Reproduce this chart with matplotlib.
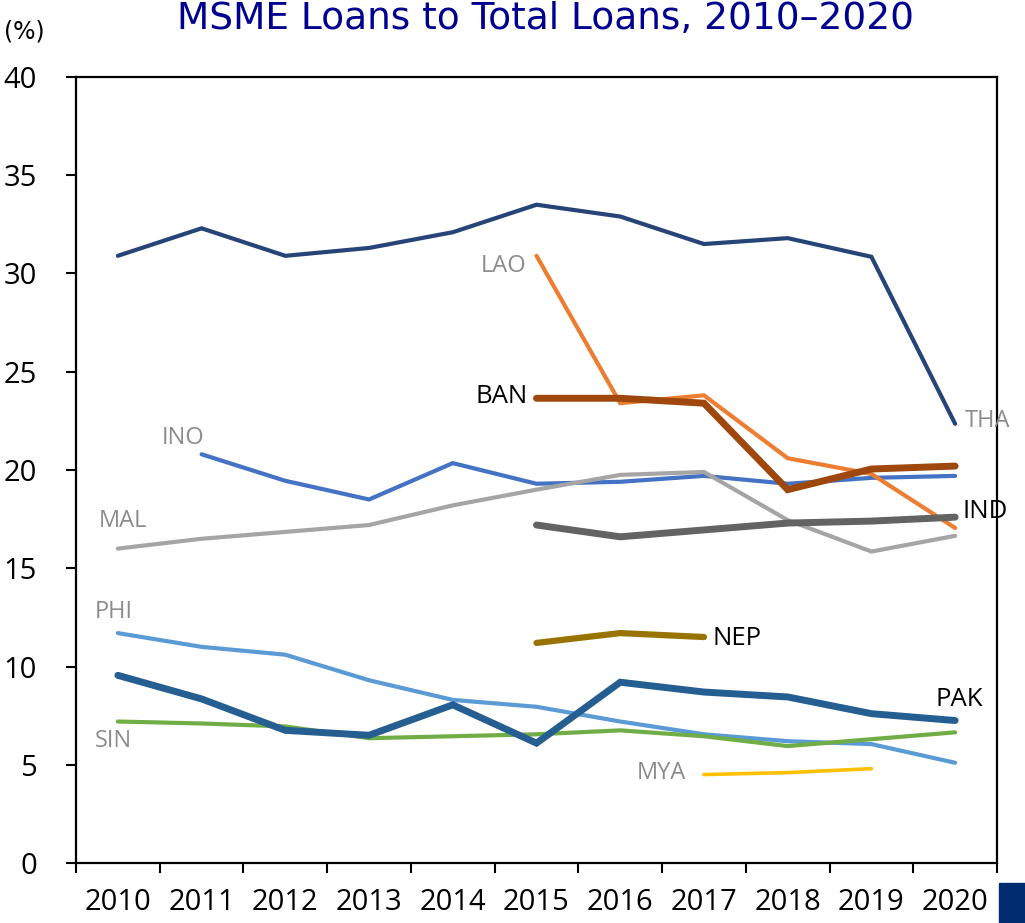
import numpy as np
import matplotlib
matplotlib.use("Agg")
import matplotlib.pyplot as plt
from matplotlib.patches import Rectangle

years = ["2010", "2011", "2012", "2013", "2014", "2015", "2016",
         "2017", "2018", "2019", "2020"]
nan = np.nan

THA = [30.9, 32.3, 30.9, 31.3, 32.1, 33.5, 32.9, 31.5, 31.8, 30.85, 22.35]
INO = [nan, 20.8, 19.45, 18.5, 20.35, 19.3, 19.4, 19.7, 19.3, 19.6, 19.7]
MAL = [16.0, 16.5, 16.85, 17.2, 18.2, 19.0, 19.75, 19.9, 17.45, 15.85, 16.65]
PHI = [11.7, 11.0, 10.6, 9.3, 8.3, 7.95, 7.2, 6.55, 6.2, 6.05, 5.1]
SIN = [7.2, 7.1, 6.95, 6.35, 6.45, 6.55, 6.75, 6.45, 5.95, 6.3, 6.65]
LAO = [nan, nan, nan, nan, nan, 30.9, 23.4, 23.8, 20.6, 19.8, 17.05]
MYA = [nan, nan, nan, nan, nan, nan, nan, 4.5, 4.6, 4.8, nan]
NEP = [nan, nan, nan, nan, nan, 11.2, 11.7, 11.5, nan, nan, nan]
IND = [nan, nan, nan, nan, nan, 17.2, 16.6, 16.95, 17.3, 17.4, 17.6]
BAN = [nan, nan, nan, nan, nan, 23.65, 23.65, 23.4, 19.0, 20.05, 20.2]
PAK = [9.55, 8.35, 6.75, 6.5, 8.05, 6.1, 9.2, 8.7, 8.45, 7.6, 7.25]

yticks = [0, 5, 10, 15, 20, 25, 30, 35, 40]

# (name, values, colour, width, label colour, label size)
series = [
    ("THA", THA, "#264478", 3.0, "#8C8C8C", 17),
    ("INO", INO, "#4472C4", 3.0, "#8C8C8C", 17),
    ("MAL", MAL, "#A5A5A5", 3.0, "#8C8C8C", 17),
    ("PHI", PHI, "#5B9BD5", 3.0, "#8C8C8C", 17),
    ("SIN", SIN, "#70AD47", 3.0, "#8C8C8C", 17),
    ("LAO", LAO, "#ED7D31", 3.0, "#8C8C8C", 17),
    ("MYA", MYA, "#FFC000", 2.6, "#8C8C8C", 17),
    ("NEP", NEP, "#997300", 4.5, "black", 18.5),
    ("IND", IND, "#636363", 5.0, "black", 18.5),
    ("BAN", BAN, "#9E480E", 5.0, "black", 18.5),
    ("PAK", PAK, "#255E91", 5.0, "black", 18.5),
]

# label anchor: which end of the series, offset (points), alignment
label_spec = {
    "THA": ("last", (7, 2), "left"),
    "INO": ("first", (2, 12), "right"),
    "MAL": ("first", (4, 20), "center"),
    "PHI": ("first", (-3, 15), "center"),
    "SIN": ("first", (-3, -14), "center"),
    "LAO": ("first", (-7, -7), "right"),
    "MYA": ("first", (-13, 1), "right"),
    "NEP": ("last", (6, -1), "left"),
    "IND": ("last", (5, 4), "left"),
    "BAN": ("first", (-6, 1), "right"),
    "PAK": ("last", (3, 15), "center"),
}

plt.rcParams["font.family"] = ["Open Sans", "DejaVu Sans"]

fig = plt.figure(figsize=(10.25, 9.23), dpi=100)
ax = fig.add_axes([76 / 1025, 1 - 863 / 923, (997 - 76) / 1025, (863 - 77) / 923])

x = np.arange(len(years))
for name, vals, col, lw, lcol, lsize in series:
    v = np.array(vals, dtype=float)
    ax.plot(x, v, color=col, lw=lw, solid_capstyle="round",
            solid_joinstyle="miter")
    idx = np.where(~np.isnan(v))[0]
    end, off, ha = label_spec[name]
    i = idx[0] if end == "first" else idx[-1]
    ax.annotate(name, xy=(x[i], v[i]), xytext=off, textcoords="offset points",
                ha=ha, va="center", color=lcol, fontsize=lsize)

ax.set_xlim(-0.5, len(years) - 0.5)
ax.set_ylim(0, 40)
ax.set_yticks(yticks)
ax.set_yticklabels([str(t) for t in yticks])
ax.tick_params(axis="y", length=7, width=1.5, pad=21, labelsize=21)

ax.set_xticks(np.arange(-0.5, len(years), 1.0))
ax.set_xticklabels([])
ax.set_xticks(x, minor=True)
ax.set_xticklabels(years, minor=True)
ax.tick_params(axis="x", which="major", length=7, width=1.5)
ax.tick_params(axis="x", which="minor", length=0, pad=18, labelsize=21)

for s in ax.spines.values():
    s.set_linewidth(1.6)

fig.text(0.532, 0.979, "MSME Loans to Total Loans, 2010\u20132020",
         ha="center", va="center", fontsize=27, color="#000090",
         family=["DejaVu Sans"])
fig.text(0.004, 0.966, "(%)", ha="left", va="center", fontsize=17,
         color="black", family=["DejaVu Sans"])

fig.patches.append(Rectangle((999 / 1025, 0), 26 / 1025, 40 / 923,
                             transform=fig.transFigure, color="#002B6E",
                             zorder=5))

fig.savefig("out.png", dpi=100)
